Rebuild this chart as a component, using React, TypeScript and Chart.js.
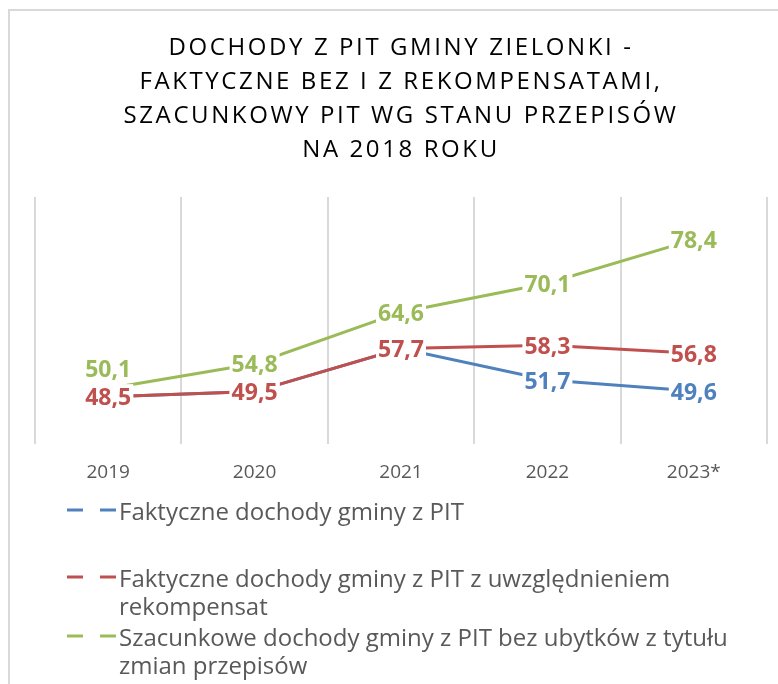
import React, { useEffect, useRef } from "react";
import { Chart, registerables } from "chart.js";

Chart.register(...registerables);

const TITLE_LINES = [
  "DOCHODY Z PIT GMINY ZIELONKI -",
  "FAKTYCZNE BEZ I Z REKOMPENSATAMI,",
  "SZACUNKOWY PIT WG STANU PRZEPISÓW",
  "NA 2018 ROKU",
];
const CATEGORIES = ["2019", "2020", "2021", "2022", "2023*"];
const SERIES_NAMES = [
  "Faktyczne dochody gminy z PIT",
  "Faktyczne dochody gminy z PIT z uwzględnieniem rekompensat",
  "Szacunkowe dochody gminy z PIT bez ubytków z tytułu zmian przepisów",
];
const FAKTYCZNE = [48.5, 49.5, 57.7, 51.7, 49.6];
const Z_REKOMPENSATAMI = [48.5, 49.5, 57.7, 58.3, 56.8];
const SZACUNKOWE = [50.1, 54.8, 64.6, 70.1, 78.4];
const SERIES_VALUES = [FAKTYCZNE, Z_REKOMPENSATAMI, SZACUNKOWE];
const COLORS = ["#4F81BD", "#C0504D", "#9BBB59"];
const Y_MIN = 39.5;
const Y_MAX = 86.5;

const FONT = "'Open Sans', 'Noto Sans', sans-serif";

const frameAndTitlePlugin = {
  id: "frameAndTitle",
  beforeDraw(chart: any, _args: any, opts: any) {
    const ctx = chart.ctx as CanvasRenderingContext2D;
    ctx.save();
    ctx.fillStyle = "#ffffff";
    ctx.fillRect(0, 0, chart.width, chart.height);
    ctx.strokeStyle = "#d9d9d9";
    ctx.lineWidth = 2;
    ctx.strokeRect(9, 10, chart.width + 50, chart.height + 50);
    ctx.fillStyle = "#000000";
    ctx.font = `24px ${FONT}`;
    ctx.textAlign = "center";
    ctx.textBaseline = "alphabetic";
    (ctx as any).letterSpacing = opts.letterSpacing;
    opts.lines.forEach((line: string, i: number) => {
      ctx.fillText(line, opts.x, opts.firstBaseline + i * opts.lineHeight);
    });
    ctx.restore();
  },
};

const boxedLabelsPlugin = {
  id: "boxedLabels",
  afterDatasetsDraw(chart: any, _args: any, opts: any) {
    const ctx = chart.ctx as CanvasRenderingContext2D;
    ctx.save();
    ctx.font = `bold ${opts.size}px ${FONT}`;
    ctx.textAlign = "center";
    ctx.textBaseline = "alphabetic";
    const digitH = ctx.measureText("0").actualBoundingBoxAscent;
    const placed: any[] = [];
    chart.data.datasets.forEach((ds: any, di: number) => {
      const meta = chart.getDatasetMeta(di);
      meta.data.forEach((pt: any, i: number) => {
        const text = Number(ds.data[i]).toFixed(1).replace(".", ",");
        const w = ctx.measureText(text).width + 2 * opts.padX;
        const h = digitH + 2 * opts.padY;
        const cx = pt.x;
        let cy = pt.y;
        let moved = true;
        let guard = 0;
        while (moved && guard < 10) {
          moved = false;
          guard++;
          for (const b of placed) {
            if (b.text === text && Math.abs(b.cx - cx) < 1 && Math.abs(b.cy - cy) < 1) continue;
            const overlap =
              cx - w / 2 < b.cx + b.w / 2 &&
              cx + w / 2 > b.cx - b.w / 2 &&
              cy - h / 2 < b.cy + b.h / 2 &&
              cy + h / 2 > b.cy - b.h / 2;
            if (overlap) {
              cy = b.cy - b.h / 2 - opts.gap - h / 2;
              moved = true;
            }
          }
        }
        placed.push({ text, cx, cy, w, h, color: ds.borderColor });
      });
    });
    placed.forEach((b) => {
      ctx.fillStyle = "#ffffff";
      ctx.fillRect(b.cx - b.w / 2, b.cy - b.h / 2, b.w, b.h);
      ctx.fillStyle = b.color;
      ctx.fillText(b.text, b.cx, b.cy + digitH / 2);
    });
    ctx.restore();
  },
};

const wrappedLegendPlugin = {
  id: "wrappedLegend",
  afterDraw(chart: any, _args: any, opts: any) {
    const ctx = chart.ctx as CanvasRenderingContext2D;
    ctx.save();
    ctx.font = `${opts.size}px ${FONT}`;
    ctx.textAlign = "left";
    ctx.textBaseline = "alphabetic";
    chart.data.datasets.forEach((ds: any, i: number) => {
      const words = String(ds.label).split(" ");
      const lines: string[] = [];
      let cur = "";
      words.forEach((wd) => {
        const test = cur ? cur + " " + wd : wd;
        if (ctx.measureText(test).width > opts.maxWidth && cur) {
          lines.push(cur);
          cur = wd;
        } else {
          cur = test;
        }
      });
      if (cur) lines.push(cur);
      const base = opts.baselines[i];
      ctx.strokeStyle = ds.borderColor;
      ctx.lineWidth = 3;
      ctx.setLineDash(opts.dash);
      ctx.beginPath();
      ctx.moveTo(opts.markerX1, base - opts.markerRise);
      ctx.lineTo(opts.markerX2, base - opts.markerRise);
      ctx.stroke();
      ctx.setLineDash([]);
      ctx.fillStyle = opts.color;
      lines.forEach((ln, j) => ctx.fillText(ln, opts.textX, base + j * opts.lineHeight));
    });
    ctx.restore();
  },
};

export default function App() {
  const ref = useRef<HTMLCanvasElement | null>(null);

  useEffect(() => {
    if (!ref.current) return;
    const chart = new Chart(ref.current, {
      type: "line",
      data: {
        labels: CATEGORIES,
        datasets: SERIES_VALUES.map((vals, i) => ({
          label: SERIES_NAMES[i],
          data: vals,
          borderColor: COLORS[i],
          backgroundColor: COLORS[i],
          borderWidth: 3,
          pointRadius: 0,
          tension: 0,
          fill: false,
          order: 3 - i,
        })),
      },
      plugins: [frameAndTitlePlugin, boxedLabelsPlugin, wrappedLegendPlugin],
      options: {
        responsive: false,
        animation: false,
        devicePixelRatio: 1,
        layout: { padding: { left: 35, right: 11, top: 197, bottom: 183 } },
        plugins: {
          legend: { display: false },
          title: { display: false },
          tooltip: { enabled: false },
          frameAndTitle: {
            lines: TITLE_LINES,
            x: 401,
            firstBaseline: 55,
            lineHeight: 34,
            letterSpacing: "2.6px",
          },
          boxedLabels: { size: 23, padX: 2, padY: 4, gap: 3 },
          wrappedLegend: {
            size: 24,
            color: "#595959",
            textX: 119,
            maxWidth: 640,
            baselines: [520, 587, 646],
            lineHeight: 28,
            markerX1: 67,
            markerX2: 116,
            markerRise: 10,
            dash: [16, 17],
          },
        } as any,
        scales: {
          x: {
            offset: true,
            grid: { offset: true, color: "#d9d9d9", lineWidth: 2, drawTicks: false },
            border: { display: false },
            ticks: { color: "#595959", font: { family: FONT, size: 19 }, padding: 17 },
          },
          y: { display: false, min: Y_MIN, max: Y_MAX },
        },
      },
    });
    return () => chart.destroy();
  }, []);

  return (
    <div style={{ position: "absolute", left: 0, top: 0, width: 778, height: 684 }}>
      <canvas ref={ref} width={778} height={684} style={{ display: "block", width: 778, height: 684 }} />
    </div>
  );
}
